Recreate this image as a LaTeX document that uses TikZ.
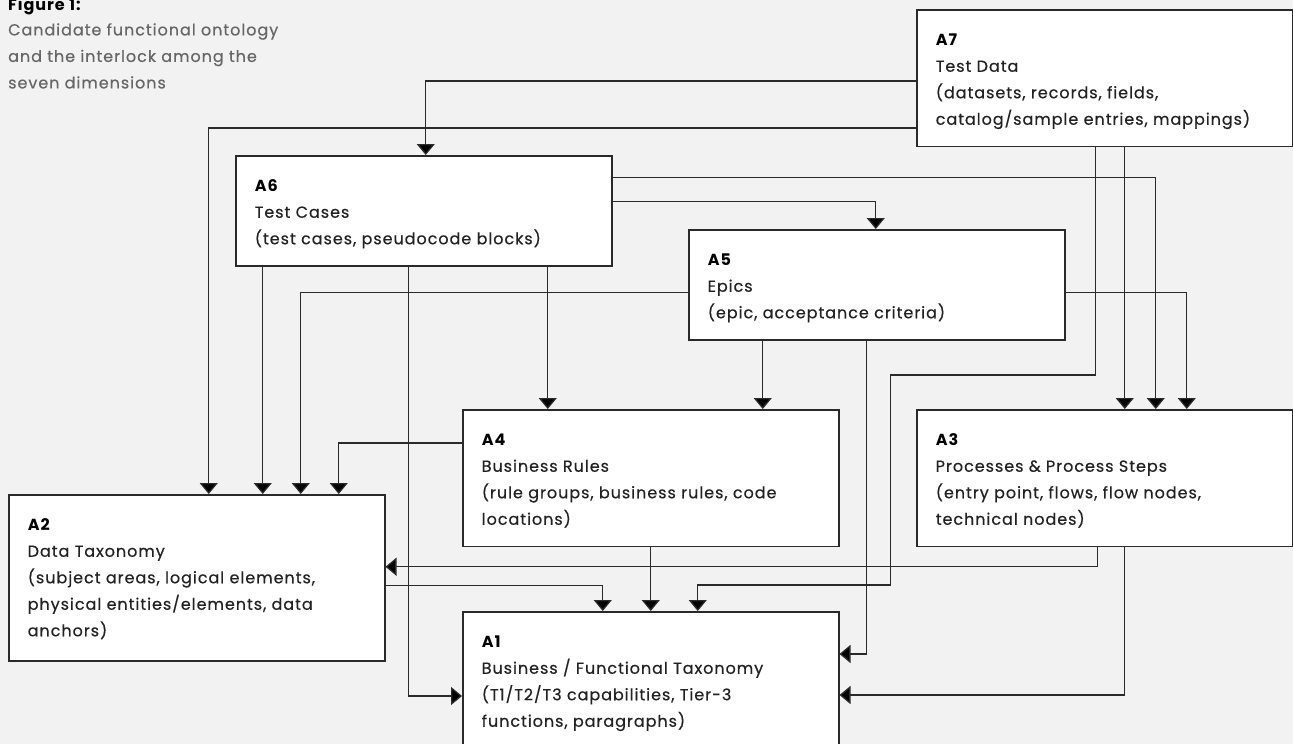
\documentclass[tikz,border=0pt]{standalone}
\usepackage{fontspec}
\setmainfont{Poppins}[LetterSpace=6, UprightFeatures={FakeBold=0.4}]
\usepackage{tikz}
\usetikzlibrary{arrows.meta,positioning}
\definecolor{bggray}{HTML}{F2F2F2}
\definecolor{linegray}{HTML}{2A2A2A}
\definecolor{textgray}{HTML}{222222}
\definecolor{capgray}{HTML}{666666}
\newcommand{\boxtop}{\rule{0pt}{35.5pt}}
\newcommand{\boxbot}[1][21.5pt]{\rule[-#1]{0pt}{#1}}
\newcommand{\dimlabel}[1]{\textcolor{black}{\textbf{#1}}}

\begin{document}
\begin{tikzpicture}[x=1pt, y=-1pt,
    dimbox/.style={draw=linegray, line width=1.5pt, fill=white, anchor=north west, align=left,
        text width=338pt, inner xsep=19pt, inner ysep=0pt, text=textgray,
        font=\fontsize{16}{26.5}\selectfont},
    arr/.style={draw=linegray, line width=1.3pt, -{Triangle[width=18pt,length=11pt,fill=black]}},
]
\useasboundingbox (0,0) rectangle (1293,744);
\fill[bggray] (0,0) rectangle (1293,744);

% Caption
\node[anchor=base west, inner sep=0pt, font=\fontsize{16}{26.5}\selectfont\bfseries] (figlabel) at (8,10) {Figure 1:};
\node[anchor=north west, inner sep=0pt, align=left, text=capgray, font=\fontsize{16}{26.5}\selectfont] (caption) at (8,23)
    {Candidate functional ontology\\and the interlock among the\\seven dimensions};

% The seven dimensions
\node[dimbox] (a7) at (916,9) {\boxtop\dimlabel{A7}\\Test Data\\(datasets, records, fields,\\catalog/sample entries, mappings)\boxbot};
\node[dimbox] (a6) at (235,155) {\boxtop\dimlabel{A6}\\Test Cases\\(test cases, pseudocode blocks)\boxbot};
\node[dimbox] (a5) at (688,229) {\boxtop\dimlabel{A5}\\Epics\\(epic, acceptance criteria)\boxbot};
\node[dimbox] (a4) at (462,409) {\boxtop\dimlabel{A4}\\Business Rules\\(rule groups, business rules, code\\locations)\boxbot};
\node[dimbox] (a3) at (916,409) {\boxtop\dimlabel{A3}\\Processes \& Process Steps\\(entry point, flows, flow nodes,\\technical nodes)\boxbot};
\node[dimbox] (a2) at (8,494) {\boxtop\dimlabel{A2}\\Data Taxonomy\\(subject areas, logical elements,\\physical entities/elements, data\\anchors)\boxbot[24.5pt]};
\node[dimbox] (a1) at (462,611) {\boxtop\dimlabel{A1}\\Business / Functional Taxonomy\\(T1/T2/T3 capabilities, Tier-3\\functions, paragraphs)\boxbot};

% From A7
\draw[arr] ([yshift=-3pt]a7.west) -| ([xshift=2pt]a6.north);
\draw[arr] ([yshift=-50pt]a7.west) -| ([xshift=12pt]a2.north);
\draw[arr] ([xshift=-9pt]a7.south) -- ++(0,228) -- ++(-205,0) -- ++(0,210) -| ([xshift=47pt]a1.north);
\draw[arr] ([xshift=20pt]a7.south) -- ([xshift=20pt]a3.north);

% From A6
\draw[arr] ([yshift=33pt]a6.east) -| ([xshift=51pt]a3.north);
\draw[arr] ([yshift=9pt]a6.east) -| ([xshift=-1pt]a5.north);
\draw[arr] ([xshift=-161pt]a6.south) -- ([xshift=66pt]a2.north);
\draw[arr] ([xshift=-15pt]a6.south) |- ([yshift=-16pt]a1.west);
\draw[arr] ([xshift=124pt]a6.south) -- ([xshift=-103pt]a4.north);

% From A5
\draw[arr] ([yshift=-8pt]a5.east) -| ([xshift=82pt]a3.north);
\draw[arr] ([yshift=-8pt]a5.west) -| ([xshift=104pt]a2.north);
\draw[arr] ([xshift=-114pt]a5.south) -- ([xshift=112pt]a4.north);
\draw[arr] ([xshift=-10pt]a5.south) |- ([yshift=26pt]a1.east);

% From A4, A3, A2
\draw[arr] ([yshift=35pt]a4.west) -| ([xshift=142pt]a2.north);
\draw[arr] (a4.south) -- (a1.north);
\draw[arr] ([xshift=-7pt]a3.south) |- ([yshift=11pt]a2.east);
\draw[arr] ([xshift=20pt]a3.south) |- ([yshift=-15pt]a1.east);
\draw[arr] ([yshift=-8pt]a2.east) -| ([xshift=-48pt]a1.north);
\end{tikzpicture}
\end{document}
